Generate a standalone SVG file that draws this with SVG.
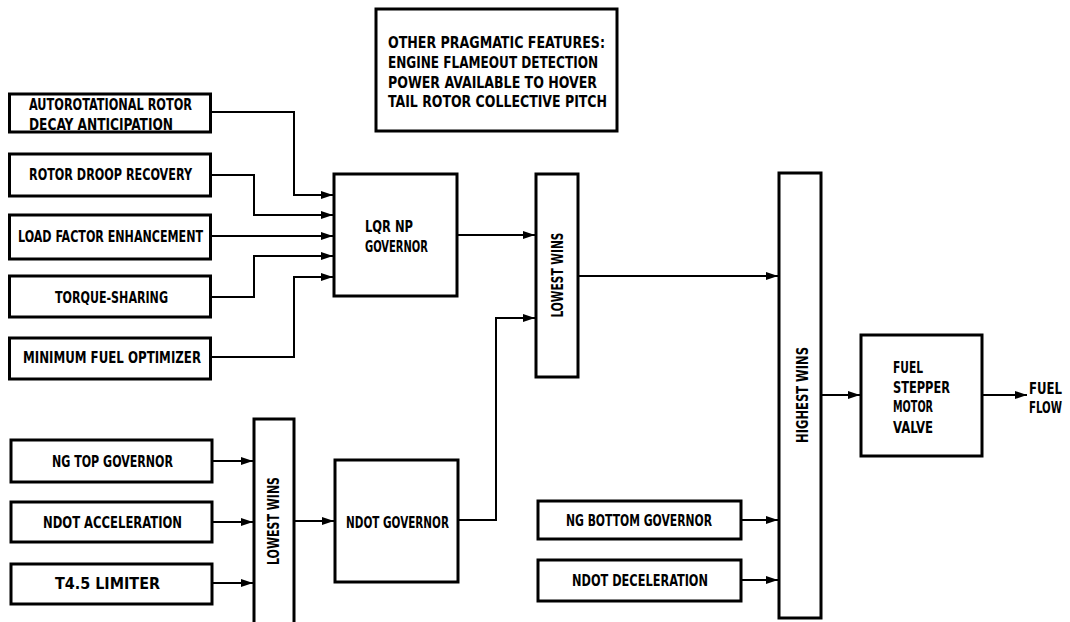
<svg xmlns="http://www.w3.org/2000/svg" width="1070" height="622" viewBox="0 0 1070 622">
<style>
.box{fill:#fff;stroke:#000;stroke-width:3}
.t{font-family:"DejaVu Sans Condensed","DejaVu Sans",sans-serif;font-weight:bold;font-size:16px;fill:#000}
.c{fill:none;stroke:#000;stroke-width:2}
</style>
<defs>
<marker id="ah" viewBox="0 0 12 8" refX="12" refY="4" markerWidth="12" markerHeight="8" markerUnits="userSpaceOnUse" orient="auto">
<path d="M0,0 L12,4 L0,8 Z" fill="#000"/>
</marker>
</defs>
<rect width="1070" height="622" fill="#fff"/>
<g id="connectors">
<path class="c" marker-end="url(#ah)" d="M211,112 H294 V195 H333"/>
<path class="c" marker-end="url(#ah)" d="M211,175 H254 V215 H333"/>
<path class="c" marker-end="url(#ah)" d="M211,236 H333"/>
<path class="c" marker-end="url(#ah)" d="M211,297 H254 V256 H333"/>
<path class="c" marker-end="url(#ah)" d="M211,357 H294 V277 H333"/>
<path class="c" marker-end="url(#ah)" d="M458,235 H535"/>
<path class="c" marker-end="url(#ah)" d="M459,520 H496 V318 H535"/>
<path class="c" marker-end="url(#ah)" d="M579,276 H778"/>
<path class="c" marker-end="url(#ah)" d="M822,395 H860"/>
<path class="c" marker-end="url(#ah)" d="M983,395 H1027"/>
<path class="c" marker-end="url(#ah)" d="M742,520 H778"/>
<path class="c" marker-end="url(#ah)" d="M742,580 H778"/>
<path class="c" marker-end="url(#ah)" d="M213,461 H253"/>
<path class="c" marker-end="url(#ah)" d="M213,522 H253"/>
<path class="c" marker-end="url(#ah)" d="M213,583 H253"/>
<path class="c" marker-end="url(#ah)" d="M295,521 H334"/>
</g>
<g id="note">
<rect class="box" x="376" y="9" width="241" height="122"/>
<text class="t" x="388" y="48" textLength="217" lengthAdjust="spacingAndGlyphs">OTHER PRAGMATIC FEATURES:</text>
<text class="t" x="388" y="68" textLength="210" lengthAdjust="spacingAndGlyphs">ENGINE FLAMEOUT DETECTION</text>
<text class="t" x="388" y="88" textLength="209" lengthAdjust="spacingAndGlyphs">POWER AVAILABLE TO HOVER</text>
<text class="t" x="388" y="107" textLength="219" lengthAdjust="spacingAndGlyphs">TAIL ROTOR COLLECTIVE PITCH</text>
</g>
<g id="autorot">
<rect class="box" x="9.5" y="94" width="201" height="38"/>
<text class="t" x="29" y="110" textLength="163" lengthAdjust="spacingAndGlyphs">AUTOROTATIONAL ROTOR</text>
<text class="t" x="29" y="130" textLength="144" lengthAdjust="spacingAndGlyphs">DECAY ANTICIPATION</text>
</g>
<g id="droop">
<rect class="box" x="9.5" y="154" width="201" height="42"/>
<text class="t" x="29" y="180" textLength="163" lengthAdjust="spacingAndGlyphs">ROTOR DROOP RECOVERY</text>
</g>
<g id="loadfactor">
<rect class="box" x="9.5" y="215" width="201" height="44"/>
<text class="t" x="18" y="242" textLength="185" lengthAdjust="spacingAndGlyphs">LOAD FACTOR ENHANCEMENT</text>
</g>
<g id="torque">
<rect class="box" x="9.5" y="276" width="201" height="41"/>
<text class="t" x="55" y="303" textLength="113" lengthAdjust="spacingAndGlyphs">TORQUE-SHARING</text>
</g>
<g id="minfuel">
<rect class="box" x="9.5" y="338" width="201" height="41"/>
<text class="t" x="23" y="363" textLength="178" lengthAdjust="spacingAndGlyphs">MINIMUM FUEL OPTIMIZER</text>
</g>
<g id="lqr">
<rect class="box" x="334" y="174" width="123" height="122"/>
<text class="t" x="365" y="232" textLength="48" lengthAdjust="spacingAndGlyphs">LQR NP</text>
<text class="t" x="365" y="252" textLength="63" lengthAdjust="spacingAndGlyphs">GOVERNOR</text>
</g>
<g id="lowest1">
<rect class="box" x="536" y="174" width="42" height="203"/>
<text class="t" transform="translate(563,275) rotate(-90)" text-anchor="middle" textLength="85" lengthAdjust="spacingAndGlyphs">LOWEST WINS</text>
</g>
<g id="highest">
<rect class="box" x="779" y="173" width="42" height="445"/>
<text class="t" transform="translate(808,395) rotate(-90)" text-anchor="middle" textLength="96" lengthAdjust="spacingAndGlyphs">HIGHEST WINS</text>
</g>
<g id="fuelvalve">
<rect class="box" x="861" y="335" width="121" height="121"/>
<text class="t" x="893" y="373" textLength="30" lengthAdjust="spacingAndGlyphs">FUEL</text>
<text class="t" x="893" y="393" textLength="57" lengthAdjust="spacingAndGlyphs">STEPPER</text>
<text class="t" x="893" y="412" textLength="40" lengthAdjust="spacingAndGlyphs">MOTOR</text>
<text class="t" x="893" y="433" textLength="40" lengthAdjust="spacingAndGlyphs">VALVE</text>
</g>
<g id="fuelflow">
<text class="t" x="1029" y="394" textLength="33" lengthAdjust="spacingAndGlyphs">FUEL</text>
<text class="t" x="1029" y="413" textLength="33" lengthAdjust="spacingAndGlyphs">FLOW</text>
</g>
<g id="ngbottom">
<rect class="box" x="538" y="501" width="203" height="38"/>
<text class="t" x="566" y="526" textLength="146" lengthAdjust="spacingAndGlyphs">NG BOTTOM GOVERNOR</text>
</g>
<g id="ndotdecel">
<rect class="box" x="538" y="560" width="203" height="41"/>
<text class="t" x="572" y="586" textLength="136" lengthAdjust="spacingAndGlyphs">NDOT DECELERATION</text>
</g>
<g id="ngtop">
<rect class="box" x="11" y="440" width="201" height="42"/>
<text class="t" x="52" y="467" textLength="121" lengthAdjust="spacingAndGlyphs">NG TOP GOVERNOR</text>
</g>
<g id="ndotacc">
<rect class="box" x="11" y="502" width="201" height="40"/>
<text class="t" x="43" y="528" textLength="139" lengthAdjust="spacingAndGlyphs">NDOT ACCELERATION</text>
</g>
<g id="t45">
<rect class="box" x="11" y="564" width="201" height="40"/>
<text class="t" x="55" y="589" textLength="105" lengthAdjust="spacingAndGlyphs">T4.5 LIMITER</text>
</g>
<g id="lowest2">
<rect class="box" x="254" y="419" width="40" height="210"/>
<text class="t" transform="translate(279,521) rotate(-90)" text-anchor="middle" textLength="88" lengthAdjust="spacingAndGlyphs">LOWEST WINS</text>
</g>
<g id="ndotgov">
<rect class="box" x="335" y="460" width="123" height="122"/>
<text class="t" x="346" y="528" textLength="103" lengthAdjust="spacingAndGlyphs">NDOT GOVERNOR</text>
</g>
</svg>
